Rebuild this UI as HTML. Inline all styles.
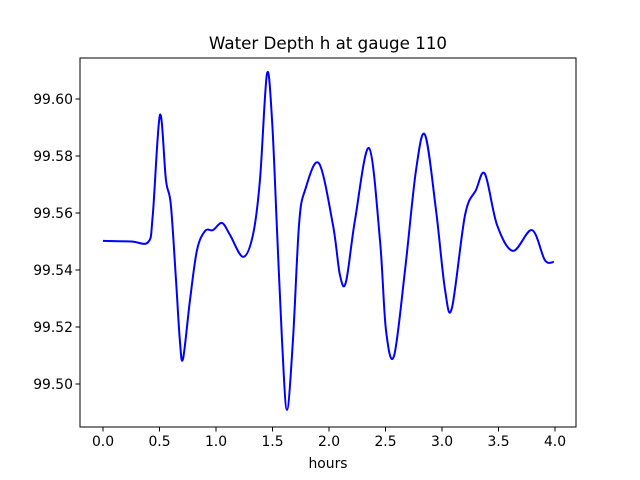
<!DOCTYPE html>
<html><head><meta charset="utf-8"><style>
body{margin:0;background:#fff}
svg{display:block;font-family:"DejaVu Sans","Liberation Sans",sans-serif}
</style></head><body>
<svg id="chart" width="640" height="480">
<rect width="640" height="480" fill="#fff"/>
<text x="328" y="49" text-anchor="middle" font-size="16.7">Water Depth h at gauge 110</text>
<text x="328" y="468" text-anchor="middle" font-size="13.9">hours</text>
<g id="ticks"></g>
<path id="line" fill="none" stroke="#0000ff" stroke-width="2"/>
<rect x="80" y="58" width="496" height="369" fill="none" stroke="#000" stroke-width="1"/>
</svg>
<script>
const hours=[0,0.25,0.40,0.44,0.504,0.557,0.60,0.646,0.68,0.708,0.77,0.832,0.903,0.973,1.053,1.124,1.24,1.327,1.389,1.451,1.496,1.54,1.584,1.628,1.681,1.735,1.788,1.91,2.035,2.097,2.15,2.23,2.354,2.451,2.504,2.575,2.673,2.77,2.85,2.947,3.027,3.088,3.204,3.30,3.38,3.487,3.628,3.796,3.91,3.99];
const depth=[99.5502,99.5500,99.5498,99.5590,99.5944,99.5716,99.5630,99.5365,99.5154,99.5088,99.5295,99.5470,99.5537,99.5540,99.5565,99.5523,99.5446,99.5523,99.5716,99.6088,99.5926,99.5540,99.5154,99.4909,99.5154,99.5560,99.5680,99.5775,99.5558,99.5382,99.5358,99.5575,99.5828,99.5505,99.5190,99.5098,99.5400,99.5750,99.5874,99.5610,99.5330,99.5267,99.5593,99.5680,99.5737,99.5558,99.5467,99.5540,99.5435,99.5428];
const xTicks=[0.0,0.5,1.0,1.5,2.0,2.5,3.0,3.5,4.0];
const yTicks=[99.50,99.52,99.54,99.56,99.58,99.60];
const ns="http://www.w3.org/2000/svg";
function xs(h){return 103+h*113;}
function ys(v){return 99+(99.60-v)*2850;}
const g=document.getElementById('ticks');
xTicks.forEach(t=>{
  const l=document.createElementNS(ns,'line');
  l.setAttribute('x1',xs(t));l.setAttribute('x2',xs(t));l.setAttribute('y1',427);l.setAttribute('y2',431.5);l.setAttribute('stroke','#000');
  
  
  g.appendChild(l);
  const tx=document.createElementNS(ns,'text');
  tx.setAttribute('x',xs(t));tx.setAttribute('y',446);tx.setAttribute('text-anchor','middle');tx.setAttribute('font-size','13.9');
  tx.textContent=t.toFixed(1);
  
  
  g.appendChild(tx);
});
yTicks.forEach(t=>{
  const l=document.createElementNS(ns,'line');
  l.setAttribute('x1',75.5);l.setAttribute('x2',80);l.setAttribute('y1',ys(t));l.setAttribute('y2',ys(t));l.setAttribute('stroke','#000');
  
  
  g.appendChild(l);
  const tx=document.createElementNS(ns,'text');
  tx.setAttribute('x',73);tx.setAttribute('y',ys(t)+5);tx.setAttribute('text-anchor','end');tx.setAttribute('font-size','13.9');
  tx.textContent=t.toFixed(2);
  
  
  g.appendChild(tx);
});
const P=hours.map((h,i)=>[xs(h),ys(depth[i])]);
let d='M'+P[0][0]+','+P[0][1];
for(let i=0;i<P.length-1;i++){
  const p0=P[Math.max(0,i-1)],p1=P[i],p2=P[i+1],p3=P[Math.min(P.length-1,i+2)];
  const c1=[p1[0]+(p2[0]-p0[0])/6,p1[1]+(p2[1]-p0[1])/6];
  const c2=[p2[0]-(p3[0]-p1[0])/6,p2[1]-(p3[1]-p1[1])/6];
  d+=' C'+c1[0]+','+c1[1]+' '+c2[0]+','+c2[1]+' '+p2[0]+','+p2[1];
}
document.getElementById('line').setAttribute('d',d);
</script>
</body></html>
